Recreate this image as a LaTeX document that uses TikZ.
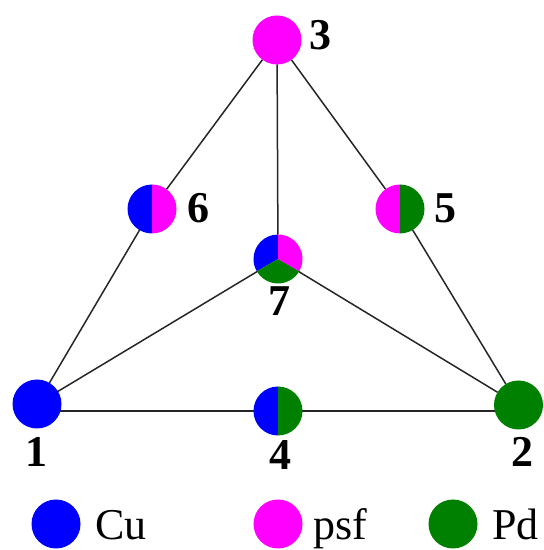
\documentclass[tikz,border=0pt]{standalone}
\usepackage{fontspec}
\setmainfont{Liberation Serif}
\definecolor{cublue}{RGB}{0,0,255}
\definecolor{psfmag}{RGB}{255,0,255}
\definecolor{pdgreen}{RGB}{0,128,0}
\begin{document}
\begin{tikzpicture}[x=1pt,y=1pt,
  site/.style={circle, minimum size=49pt, inner sep=0pt, outer sep=0pt},
  num/.style={font=\fontsize{44}{44}\selectfont\bfseries, inner sep=0pt, anchor=base},
  leg/.style={font=\fontsize{44}{44}\selectfont, inner sep=0pt, anchor=base west},
  edge/.style={line width=1.5pt, black!85}]
\useasboundingbox (0,0) rectangle (544,550);
% sites
\node[site] (n3) at (277,510) {};
\node[site] (n6) at (152,341) {};
\node[site] (n5) at (400,341) {};
\node[site] (n7) at (278,291) {};
\node[site] (n1) at (37,146) {};
\node[site] (n4) at (278,139) {};
\node[site] (n2) at (518.5,145) {};
% edges
\draw[edge] (n3) -- (n6);
\draw[edge] (n3) -- (n7);
\draw[edge] (n3) -- (n5);
\draw[edge] (n6) -- (n1);
\draw[edge] (n5) -- (n2);
\draw[edge] (n7) -- (n1);
\draw[edge] (n7) -- (n2);
\draw[edge] (n4 -| n1) -- (n4 -| n2);
% fills
\fill[psfmag] (n3) circle[radius=24.5pt];
\fill[cublue] (n1) circle[radius=24.5pt];
\fill[pdgreen] (n2) circle[radius=24.5pt];
\fill[cublue] (n6.south) arc[start angle=270,end angle=90,radius=24.5pt] -- cycle;
\fill[psfmag] (n6.north) arc[start angle=90,end angle=-90,radius=24.5pt] -- cycle;
\fill[psfmag] (n5.south) arc[start angle=270,end angle=90,radius=24.5pt] -- cycle;
\fill[pdgreen] (n5.north) arc[start angle=90,end angle=-90,radius=24.5pt] -- cycle;
\fill[cublue] (n4.south) arc[start angle=270,end angle=90,radius=24.5pt] -- cycle;
\fill[pdgreen] (n4.north) arc[start angle=90,end angle=-90,radius=24.5pt] -- cycle;
\fill[cublue] (n7.center) -- (n7.90) arc[start angle=90,end angle=210,radius=24.5pt] -- cycle;
\fill[pdgreen] (n7.center) -- (n7.210) arc[start angle=210,end angle=330,radius=24.5pt] -- cycle;
\fill[psfmag] (n7.center) -- (n7.330) arc[start angle=330,end angle=450,radius=24.5pt] -- cycle;
% labels
\node[num] (l3) at (320,500) {3};
\node[num] (l6) at (198,327) {6};
\node[num] (l5) at (445,327) {5};
\node[num] (l7) at (279,234) {7};
\node[num] (l1) at (37,83) {1};
\node[num] (l4) at (280,80) {4};
\node[num] (l2) at (522,83) {2};
% legend
\node[site, fill=cublue] (lcu) at (56,26) {};
\node[site, fill=psfmag] (lpsf) at (278,26) {};
\node[site, fill=pdgreen] (lpd) at (453,26) {};
\node[leg] (tcu) at (95,10) {Cu};
\node[leg] (tpsf) at (313,10) {psf};
\node[leg] (tpd) at (492,10) {Pd};
\end{tikzpicture}
\end{document}
